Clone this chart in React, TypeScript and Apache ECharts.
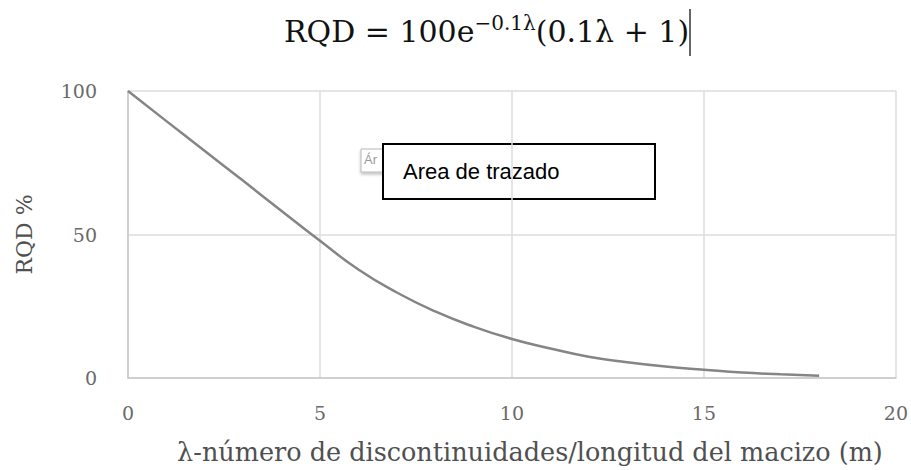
import React, { useEffect, useRef } from "react";
import * as echarts from "echarts";

const lambdaValues = [0, 1, 2, 3, 4, 5, 6, 7, 8, 9, 10, 11, 12, 13, 14, 15, 16, 17, 18];
const rqdValues = [100, 89.5, 79.1, 68.7, 58.2, 47.8, 37.8, 29.8, 23.2, 17.9, 13.6, 10.3, 7.4, 5.5, 4.0, 2.9, 1.9, 1.3, 0.8];
const xTicks = { min: 0, max: 20, interval: 5 };
const yTicks = { min: 0, max: 100, interval: 50 };
const titleParts = ["RQD = 100e", "−0.1λ", "(0.1λ + 1)"];
const xName = "λ-número de discontinuidades/longitud del macizo (m)";
const yName = "RQD %";
const annotation = "Area de trazado";

export default function App() {
  const ref = useRef<HTMLDivElement>(null);
  useEffect(() => {
    if (!ref.current) return;
    const chart = echarts.init(ref.current, null, { renderer: "svg" });
    const serif = "'DejaVu Serif', 'Liberation Serif', serif";
    chart.setOption({
      animation: false,
      backgroundColor: "#ffffff",
      title: {
        text: `{a|${titleParts[0]}}{b|${titleParts[1]}}{a|${titleParts[2]}}`,
        left: 279,
        top: 8,
        textStyle: {
          fontWeight: "normal",
          rich: {
            a: { fontFamily: serif, fontSize: 30, fontWeight: "normal", color: "#111111" },
            b: { fontFamily: serif, fontSize: 20, fontWeight: "normal", color: "#111111", padding: [0, 0, 17, 0] },
          },
        },
      },
      grid: { left: 128, top: 91, right: 15, bottom: 90 },
      xAxis: {
        type: "value",
        min: xTicks.min,
        max: xTicks.max,
        interval: xTicks.interval,
        name: xName,
        nameLocation: "middle",
        nameGap: 61,
        nameTextStyle: { fontFamily: serif, fontSize: 25.5, color: "#505050", padding: [0, 0, 0, 36] },
        axisLine: { show: true, lineStyle: { color: "#c8c8c8", width: 1.5 } },
        axisTick: { show: false },
        axisLabel: { fontFamily: serif, fontSize: 19, color: "#6a6a6a", margin: 25 },
        splitLine: { show: true, lineStyle: { color: "#dcdcdc", width: 1.5 } },
      },
      yAxis: {
        type: "value",
        min: yTicks.min,
        max: yTicks.max,
        interval: yTicks.interval,
        name: yName,
        nameLocation: "middle",
        nameGap: 93,
        nameTextStyle: { fontFamily: serif, fontSize: 22, color: "#505050" },
        axisLine: { show: true, lineStyle: { color: "#c8c8c8", width: 1.5 } },
        axisTick: { show: false },
        axisLabel: { fontFamily: serif, fontSize: 19, color: "#6a6a6a", margin: 31 },
        splitLine: { show: true, lineStyle: { color: "#dcdcdc", width: 1.5 } },
      },
      series: [
        {
          type: "line",
          data: lambdaValues.map((x, i) => [x, rqdValues[i]]),
          smooth: true,
          showSymbol: false,
          lineStyle: { color: "#858585", width: 2.5 },
        },
      ],
      graphic: [
        {
          type: "line",
          shape: { x1: 690, y1: 9, x2: 690, y2: 56 },
          style: { stroke: "#333333", lineWidth: 1.5 },
        },
        {
          type: "rect",
          shape: { x: 361, y: 149, width: 30, height: 23 },
          style: { fill: "#ffffff", stroke: "#b8b8b8", lineWidth: 1, shadowBlur: 3, shadowColor: "rgba(0,0,0,0.25)", shadowOffsetY: 2 },
        },
        {
          type: "text",
          x: 364,
          y: 153,
          style: { text: "Ár", fontFamily: "'Liberation Sans', Arial, sans-serif", fontSize: 13, fill: "#999999" },
        },
        {
          type: "rect",
          shape: { x: 383, y: 144, width: 272, height: 55 },
          style: { fill: "#ffffff", stroke: "#000000", lineWidth: 2 },
        },
        {
          type: "text",
          x: 403,
          y: 171,
          style: {
            text: annotation,
            fontFamily: "'Liberation Sans', Arial, sans-serif",
            fontSize: 22,
            fill: "#000000",
            verticalAlign: "middle",
          },
        },
      ],
    });
    return () => chart.dispose();
  }, []);
  return <div ref={ref} style={{ width: 911, height: 470, position: "absolute", left: 0, top: 0 }} />;
}
